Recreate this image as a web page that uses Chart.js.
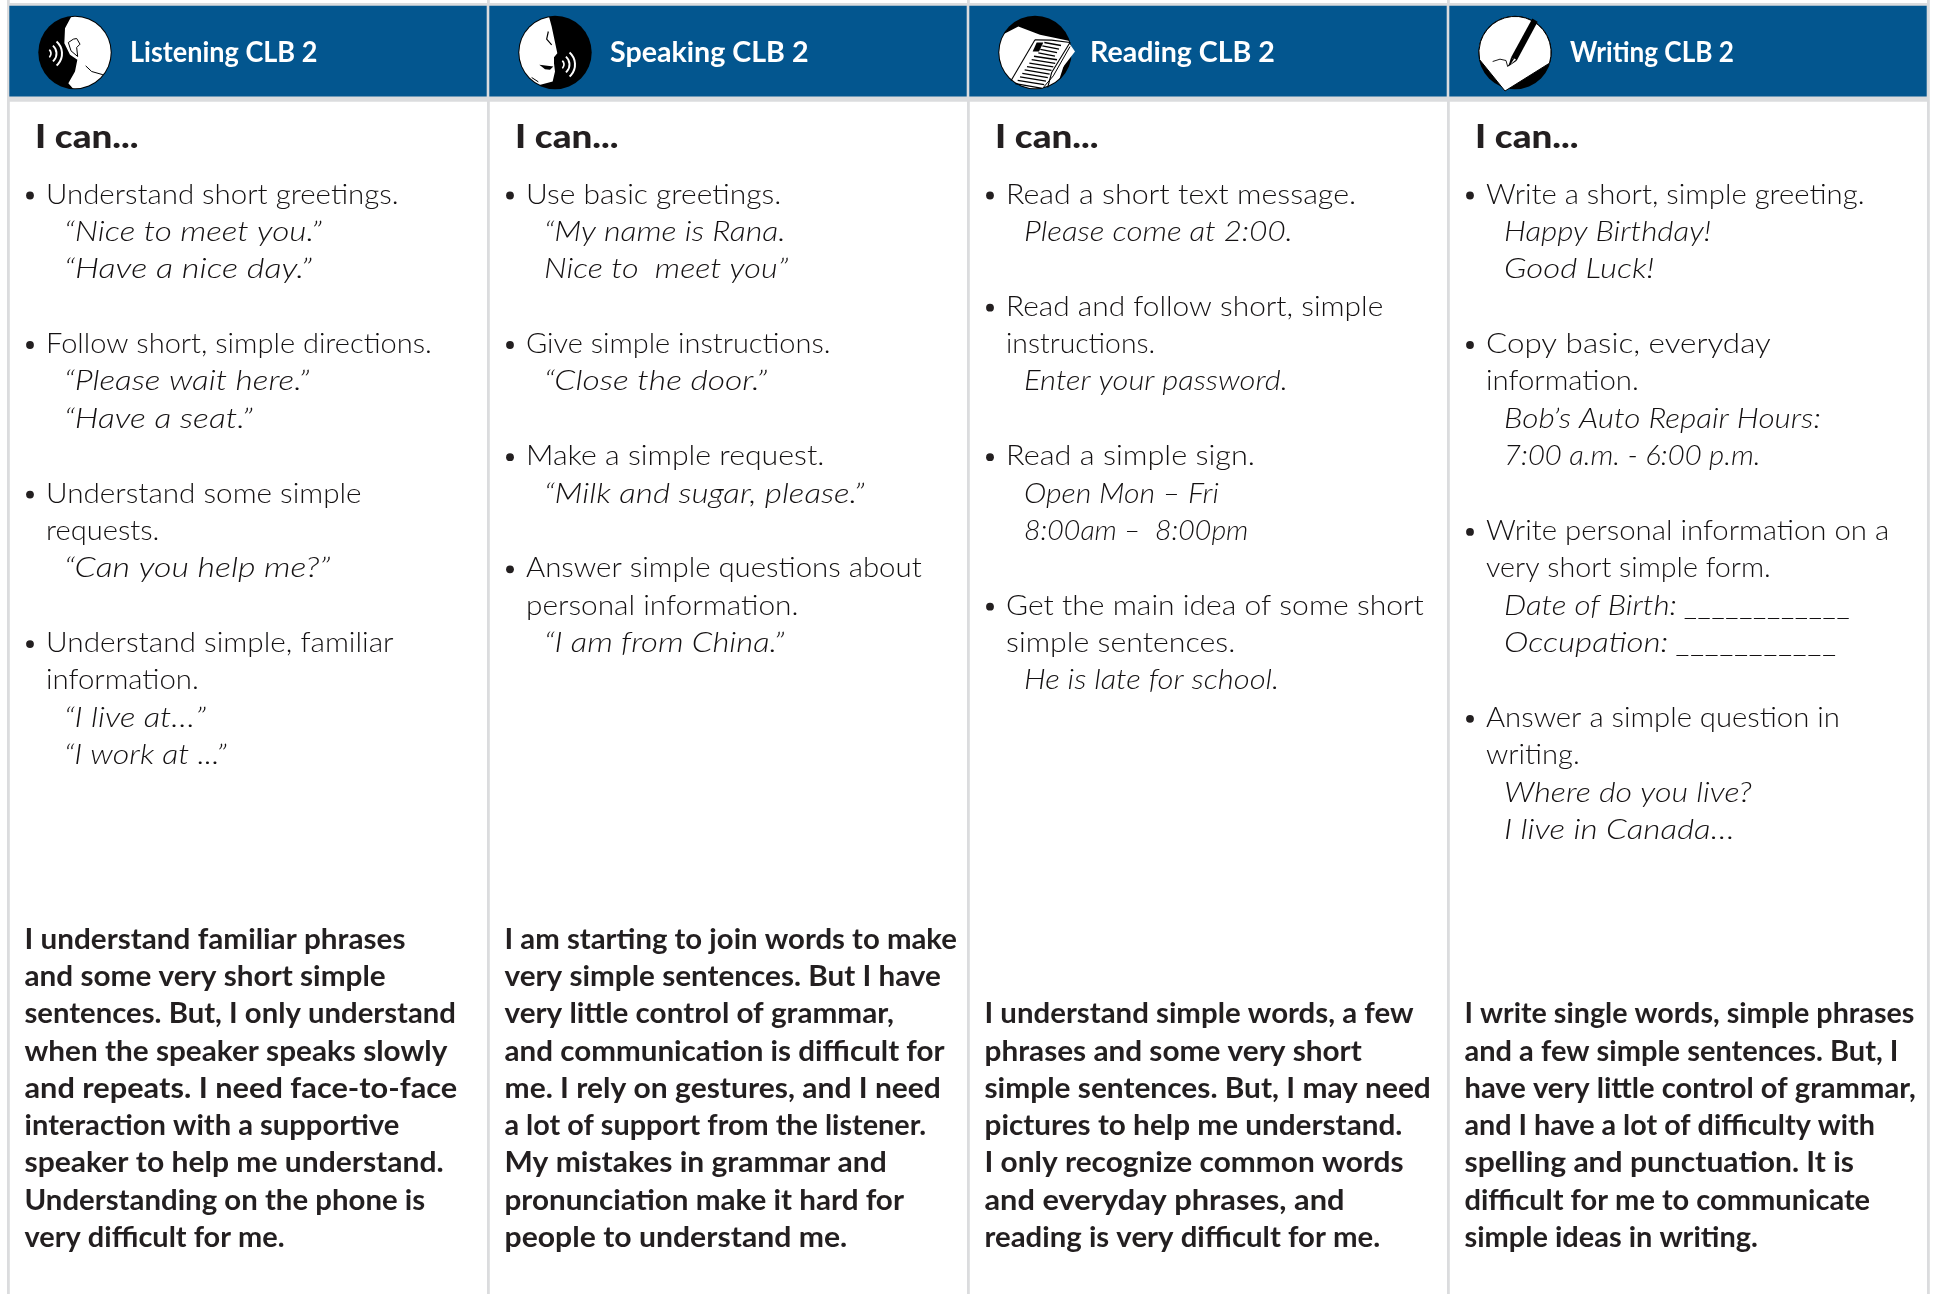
<!DOCTYPE html>
<html>
<head>
<meta charset="utf-8">
<title>CLB 2 I can statements</title>
<script src="https://cdn.jsdelivr.net/npm/chart.js@4"></script>
<style>
  html, body { margin: 0; padding: 0; background: #fff; overflow: hidden; }
  canvas { display: block; }
</style>
</head>
<body>
<canvas id="clb" width="1933" height="1294"></canvas>
<script>
// Categories and the text of each column. b = bullet line, c = continuation, e = example (italic), null = blank row
const skills = ['Listening', 'Speaking', 'Reading', 'Writing'];
const levelLabel = 'CLB 2';
const introLabel = 'I can...';

const listeningLines = [
  ['b', 'Understand short greetings.'], ['e', '“Nice to meet you.”'], ['e', '“Have a nice day.”'], null,
  ['b', 'Follow short, simple directions.'], ['e', '“Please wait here.”'], ['e', '“Have a seat.”'], null,
  ['b', 'Understand some simple'], ['c', 'requests.'], ['e', '“Can you help me?”'], null,
  ['b', 'Understand simple, familiar'], ['c', 'information.'], ['e', '“I live at…”'], ['e', '“I work at ...”']
];
const speakingLines = [
  ['b', 'Use basic greetings.'], ['e', '“My name is Rana.'], ['e', 'Nice to  meet you”'], null,
  ['b', 'Give simple instructions.'], ['e', '“Close the door.”'], null,
  ['b', 'Make a simple request.'], ['e', '“Milk and sugar, please.”'], null,
  ['b', 'Answer simple questions about'], ['c', 'personal information.'], ['e', '“I am from China.”']
];
const readingLines = [
  ['b', 'Read a short text message.'], ['e', 'Please come at 2:00.'], null,
  ['b', 'Read and follow short, simple'], ['c', 'instructions.'], ['e', 'Enter your password.'], null,
  ['b', 'Read a simple sign.'], ['e', 'Open Mon – Fri'], ['e', '8:00am –  8:00pm'], null,
  ['b', 'Get the main idea of some short'], ['c', 'simple sentences.'], ['e', 'He is late for school.']
];
const writingLines = [
  ['b', 'Write a short, simple greeting.'], ['e', 'Happy Birthday!'], ['e', 'Good Luck!'], null,
  ['b', 'Copy basic, everyday'], ['c', 'information.'], ['e', 'Bob’s Auto Repair Hours:'], ['e', '7:00 a.m. - 6:00 p.m.'], null,
  ['b', 'Write personal information on a'], ['c', 'very short simple form.'], ['e', 'Date of Birth: ____________'], ['e', 'Occupation: ___________'], null,
  ['b', 'Answer a simple question in'], ['c', 'writing.'], ['e', 'Where do you live?'], ['e', 'I live in Canada…']
];

const listeningSummary = ['I understand familiar phrases', 'and some very short simple', 'sentences. But, I only understand',
  'when the speaker speaks slowly', 'and repeats. I need face-to-face', 'interaction with a supportive',
  'speaker to help me understand.', 'Understanding on the phone is', 'very difficult for me.'];
const speakingSummary = ['I am starting to join words to make', 'very simple sentences. But I have', 'very little control of grammar,',
  'and communication is difficult for', 'me. I rely on gestures, and I need', 'a lot of support from the listener.',
  'My mistakes in grammar and', 'pronunciation make it hard for', 'people to understand me.'];
const readingSummary = ['I understand simple words, a few', 'phrases and some very short', 'simple sentences. But, I may need',
  'pictures to help me understand.', 'I only recognize common words', 'and everyday phrases, and', 'reading is very difficult for me.'];
const writingSummary = ['I write single words, simple phrases', 'and a few simple sentences. But, I', 'have very little control of grammar,',
  'and I have a lot of difficulty with', 'spelling and punctuation. It is', 'difficult for me to communicate', 'simple ideas in writing.'];

const columnLines = [listeningLines, speakingLines, readingLines, writingLines];
const columnSummaries = [listeningSummary, speakingSummary, readingSummary, writingSummary];

// layout of the sheet
const PITCH = 37.38;
const FIRST_ROW = 203.5;
const LAST_SUMMARY_ROW = 1247;
const BLUE = '#03568f';
const GREY = '#dbdcde';
const INK = '#231f20';
const SHRINK = 1933 / 1568;

const styles = {
  head: { font: '700 28px "Lato"', color: '#fff' },
  intro: { font: '900 32px "Lato"', color: INK },
  body: { font: '300 28px "Lato"', color: '#141112' },
  example: { font: 'italic 300 28px "Lato"', color: '#141112' },
  summary: { font: '700 28px "Lato"', color: INK }
};

// line widths measured on the shrunk reference, the substitute font is stretched to them
const measuredWidths = {
  'Listening CLB 2': 152, 'Speaking CLB 2': 161, 'Reading CLB 2': 150, 'Writing CLB 2': 133, 'I can...': 84,
  'Understand short greetings.': 286, '“Nice to meet you.”': 209, '“Have a nice day.”': 201,
  'Follow short, simple directions.': 313, '“Please wait here.”': 199, '“Have a seat.”': 153,
  'Understand some simple': 256, 'requests.': 92, '“Can you help me?”': 216,
  'Understand simple, familiar': 282, 'information.': 124, '“I live at…”': 115, '“I work at ...”': 132,
  'Use basic greetings.': 207, '“My name is Rana.': 196, 'Nice to  meet you”': 198,
  'Give simple instructions.': 247, '“Close the door.”': 181, 'Make a simple request.': 242,
  '“Milk and sugar, please.”': 260, 'Answer simple questions about': 321, 'personal information.': 221, '“I am from China.”': 195,
  'Read a short text message.': 284, 'Please come at 2:00.': 218, 'Read and follow short, simple': 306,
  'instructions.': 121, 'Enter your password.': 214, 'Read a simple sign.': 202, 'Open Mon – Fri': 158,
  '8:00am –  8:00pm': 182, 'Get the main idea of some short': 339, 'simple sentences.': 186, 'He is late for school.': 207,
  'Write a short, simple greeting.': 307, 'Happy Birthday!': 168, 'Good Luck!': 122, 'Copy basic, everyday': 231,
  'Bob’s Auto Repair Hours:': 257, '7:00 a.m. - 6:00 p.m.': 208, 'Write personal information on a': 327,
  'very short simple form.': 231, 'Date of Birth: ____________': 282, 'Occupation: ___________': 271,
  'Answer a simple question in': 287, 'writing.': 76, 'Where do you live?': 201, 'I live in Canada…': 187,
  'I understand familiar phrases': 309, 'and some very short simple': 293, 'sentences. But, I only understand': 350,
  'when the speaker speaks slowly': 343, 'and repeats. I need face-to-face': 351, 'interaction with a supportive': 304,
  'speaker to help me understand.': 340, 'Understanding on the phone is': 325, 'very difficult for me.': 211,
  'I am starting to join words to make': 367, 'very simple sentences. But I have': 354, 'very little control of grammar,': 316,
  'and communication is difficult for': 357, 'me. I rely on gestures, and I need': 354, 'a lot of support from the listener.': 342,
  'My mistakes in grammar and': 310, 'pronunciation make it hard for': 324, 'people to understand me.': 278,
  'I understand simple words, a few': 348, 'phrases and some very short': 306, 'simple sentences. But, I may need': 362,
  'pictures to help me understand.': 339, 'I only recognize common words': 340, 'and everyday phrases, and': 292, 'reading is very difficult for me.': 321,
  'I write single words, simple phrases': 365, 'and a few simple sentences. But, I': 352, 'have very little control of grammar,': 366,
  'and I have a lot of difficulty with': 333, 'spelling and punctuation. It is': 316, 'difficult for me to communicate': 329, 'simple ideas in writing.': 238
};

function putText(ctx, styleName, text, x, y) {
  const s = styles[styleName];
  ctx.font = s.font;
  ctx.fillStyle = s.color;
  const want = measuredWidths[text] * SHRINK;
  const stretch = want ? want / ctx.measureText(text).width : 1;
  ctx.save();
  ctx.translate(x, y);
  ctx.scale(stretch, 1);
  ctx.fillText(text, 0, 0);
  ctx.restore();
}

// small helpers, points are in 3x units around the icon centre (same as the zoomed crop)
function shape(ctx, pts, fill) {
  ctx.beginPath();
  pts.forEach((p, i) => { const x = p[0] / 3, y = p[1] / 3; i ? ctx.lineTo(x, y) : ctx.moveTo(x, y); });
  ctx.closePath();
  ctx.fillStyle = fill;
  ctx.fill();
}
function stroke(ctx, pts, color, w) {
  ctx.beginPath();
  pts.forEach((p, i) => { const x = p[0] / 3, y = p[1] / 3; i ? ctx.lineTo(x, y) : ctx.moveTo(x, y); });
  ctx.strokeStyle = color;
  ctx.lineWidth = w;
  ctx.lineJoin = 'round';
  ctx.stroke();
}
function waves(ctx, x, y) {
  ctx.strokeStyle = '#fff';
  [[5, 1.7], [10.5, 1.9], [16, 2]].forEach(([r, w]) => {
    ctx.beginPath();
    ctx.lineWidth = w;
    ctx.arc(x - 8, y, r, -0.85, 0.85);
    ctx.stroke();
  });
}

function drawIcon(ctx, i, cx, cy) {
  const R = 36.7;
  ctx.save();
  ctx.translate(cx, cy);
  ctx.beginPath();
  ctx.arc(0, 0, R, 0, Math.PI * 2);
  ctx.fillStyle = '#000';
  ctx.fill();
  if (i === 2) {
    shape(ctx, [[105, -25], [120, -3], [60, 75], [20, 108], [-10, 90], [0, -10]], '#fff');
  }
  if (i === 3) {
    // bubble with its tail, the tail pokes a bit out of the circle
    ctx.beginPath();
    ctx.arc(0, 0, R - 0.6, 0.3, Math.PI - 0.2, true);
    ctx.lineTo(-10, 38.5);
    ctx.closePath();
    ctx.fillStyle = '#fff';
    ctx.fill();
    ctx.strokeStyle = '#000';
    ctx.lineWidth = 1;
    ctx.stroke();
    shape(ctx, [[52, -102], [68, -92], [5, 25], [-12, 15]], '#000');
    shape(ctx, [[-12, 15], [5, 25], [-20, 42]], '#000');
    shape(ctx, [[-2, 18], [3, 21], [-14, 36]], '#fff');
    stroke(ctx, [[-67, 27], [-45, 20], [-27, 24], [-22, 42], [-12, 30]], '#000', 0.9);
    ctx.restore();
    return;
  }
  ctx.save();
  ctx.beginPath();
  ctx.arc(0, 0, R - 1, 0, Math.PI * 2);
  ctx.clip();
  if (i === 0) {
    shape(ctx, [[-10, -110], [-30, -73], [-32, -28], [-15, 7], [7, 22], [0, 57], [-20, 92], [0, 115], [120, 115], [120, -115]], '#fff');
    stroke(ctx, [[32, 40], [50, 57], [85, 67]], '#000', 1);
    stroke(ctx, [[-5, -40], [-20, -30], [-12, -5], [8, 12], [5, -15], [15, -25], [5, -42], [-5, -40]], '#000', 1);
    ctx.restore();
    waves(ctx, -21, 1);
  } else if (i === 1) {
    shape(ctx, [[-20, -115], [-10, -78], [7, 2], [-3, 14], [-3, 32], [0, 57], [-7, 87], [-55, 100], [-60, 115], [-120, 115], [-120, -115]], '#fff');
    stroke(ctx, [[-20, -63], [-25, -40], [-10, -23]], '#000', 1.2);
    shape(ctx, [[-47, 37], [-5, 42], [-15, 52], [-30, 50]], '#000');
    stroke(ctx, [[-70, 75], [-50, 88]], '#000', 1);
    ctx.restore();
    waves(ctx, 12, 12);
  } else {
    shape(ctx, [[-120, -45], [-95, -55], [-50, -78], [15, -53], [110, -33], [60, 120], [-120, 120]], '#fff');
    ctx.restore();
    // spine, page edge and text rows
    stroke(ctx, [[0, -38], [-72, 85]], '#000', 1.1);
    stroke(ctx, [[0, -38], [50, -37], [105, -30], [50, 60], [38, 105]], '#000', 1.1);
    stroke(ctx, [[105, -18], [55, 70], [25, 105]], '#000', 1);
    for (let k = 0; k < 13; k++) {
      const sx = k < 4 ? 28 - k * 6 : -3 - (k - 4) * 7, sy = -30 + k * 10.3;
      const ex = k < 4 ? 78 - k * 6 : 66 - (k - 4) * 5.5, ey = sy + 9 + k * 0.4;
      stroke(ctx, [[sx, sy], [ex, ey]], '#000', 1.3);
    }
    shape(ctx, [[5, -30], [25, -30], [12, -3], [-7, -3]], '#000');
  }
  ctx.restore();
}

const sheetPlugin = {
  id: 'sheet',
  afterDatasetsDraw(chart) {
    const ctx = chart.ctx, x = chart.scales.x, y = chart.scales.y;
    const rowY = (r) => y.getPixelForValue(FIRST_ROW + r * PITCH);
    ctx.save();
    ctx.textBaseline = 'alphabetic';
    skills.forEach((skill, i) => {
      const left = x.getPixelForValue(i) - x.getPixelForValue(0);
      drawIcon(ctx, i, left + 75, y.getPixelForValue(52.5));
      putText(ctx, 'head', skill + ' ' + levelLabel, left + 130, y.getPixelForValue(61.5));
      putText(ctx, 'intro', introLabel, left + 35, y.getPixelForValue(147.5));
      columnLines[i].forEach((line, r) => {
        if (!line) return;
        if (line[0] === 'b') {
          ctx.beginPath();
          ctx.arc(left + 30, rowY(r) - 8, 3.9, 0, Math.PI * 2);
          ctx.fillStyle = INK;
          ctx.fill();
        }
        if (line[0] === 'e') putText(ctx, 'example', line[1], left + 64, rowY(r));
        else putText(ctx, 'body', line[1], left + 46, rowY(r));
      });
      const rows = columnSummaries[i];
      rows.forEach((text, r) => {
        putText(ctx, 'summary', text, left + 24.5, y.getPixelForValue(LAST_SUMMARY_ROW - (rows.length - 1 - r) * 37.3));
      });
    });
    ctx.restore();
  }
};

new Chart(document.getElementById('clb').getContext('2d'), {
  type: 'bar',
  data: {
    labels: skills,
    datasets: [
      {
        label: 'header',
        data: skills.map(() => [5.7, 96.5]),
        backgroundColor: BLUE,
        grouped: false,
        order: 0,
        categoryPercentage: 1,
        barPercentage: 0.9946
      },
      {
        label: 'header edge',
        data: skills.map(() => [3.3, 101.5]),
        backgroundColor: GREY,
        grouped: false,
        order: 1,
        categoryPercentage: 1,
        barPercentage: 1
      }
    ]
  },
  options: {
    responsive: false,
    animation: false,
    layout: { padding: { left: 8, right: 5, top: 0, bottom: 0 } },
    plugins: { legend: { display: false }, tooltip: { enabled: false } },
    scales: {
      x: {
        grid: { color: GREY, lineWidth: 2.8, drawTicks: false, offset: true },
        border: { display: false },
        ticks: { display: false }
      },
      y: {
        reverse: true,
        min: 0,
        max: 1294,
        display: false
      }
    }
  },
  plugins: [sheetPlugin]
});
</script>
</body>
</html>
